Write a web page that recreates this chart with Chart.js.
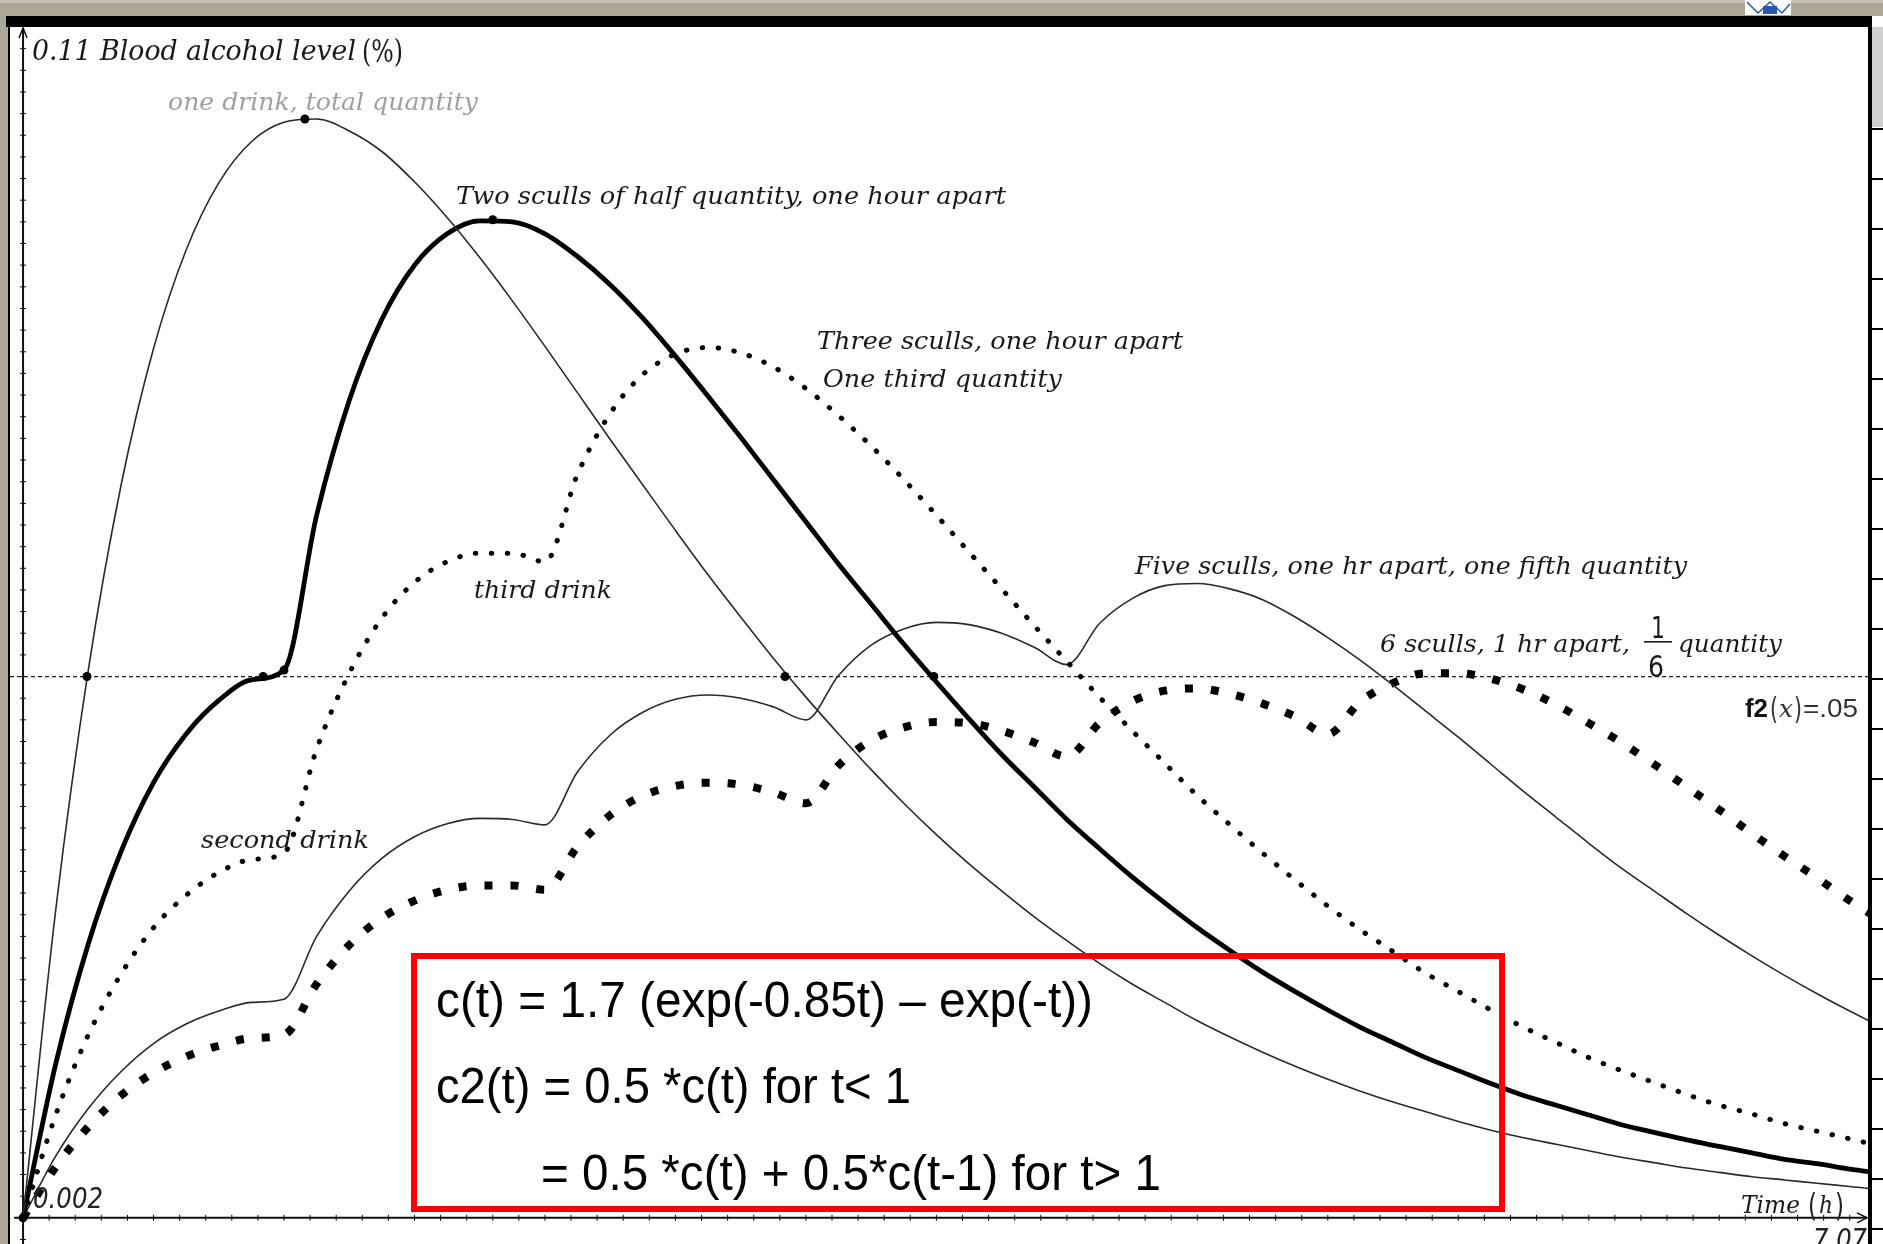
<!DOCTYPE html>
<html>
<head>
<meta charset="utf-8">
<script src="https://cdn.jsdelivr.net/npm/chart.js@4.4.1/dist/chart.umd.min.js"></script>
<style>
  html, body { margin: 0; padding: 0; background: #fff; }
  canvas { display: block; }
</style>
</head>
<body>
<canvas id="grafik-alkohol" width="1883" height="1244"></canvas>
<script>
/* =============================================
   kadar alkohol darah — tiruan layar TI-Nspire
   ============================================= */

// ============ DATA ============
// waktu (jam), langkah 1/8 jam
var waktuJam = [0, 0.125, 0.25, 0.375, 0.5, 0.625, 0.75, 0.875, 1, 1.125, 1.25, 1.375, 1.5, 1.625, 1.75, 1.875,
  2, 2.125, 2.25, 2.375, 2.5, 2.625, 2.75, 2.875, 3, 3.125, 3.25, 3.375, 3.5, 3.625, 3.75, 3.875,
  4, 4.125, 4.25, 4.375, 4.5, 4.625, 4.75, 4.875, 5, 5.125, 5.25, 5.375, 5.5, 5.625, 5.75, 5.875,
  6, 6.125, 6.25, 6.375, 6.5, 6.625, 6.75, 6.875, 7, 7.125, 7.25];

// satu minuman, jumlah penuh
var satuMinum = [0, .0284, .0506, .0676, .0803, .0894, .0956, .0994, .1012, .1015, .1004, .0985, .0957, .0924, .0887, .0847,
  .0805, .0762, .0719, .0677, .0635, .0594, .0555, .0517, .0481, .0447, .0414, .0383, .0354, .0327, .0302, .0278,
  .0256, .0235, .0216, .0199, .0182, .0167, .0153, .0140, .0128, .0117, .0107, .0098, .0089, .0081, .0074, .0068,
  .0062, .0056, .0051, .0046, .0042, .0038, .0035, .0032, .0029, .0026, .0024];

// dua teguk, setengah jumlah, selang satu jam
var duaTeguk = [0, .0142, .0253, .0338, .0402, .0447, .0478, .0497, .0506, .0649, .0755, .0830, .0880, .0909, .0921, .0920,
  .0909, .0888, .0862, .0831, .0796, .0759, .0721, .0682, .0643, .0604, .0567, .0530, .0495, .0461, .0428, .0398,
  .0368, .0341, .0315, .0291, .0268, .0247, .0227, .0209, .0192, .0176, .0162, .0148, .0136, .0124, .0113, .0104,
  .0095, .0086, .0079, .0072, .0066, .0060, .0054, .0050, .0045, .0041, .0037];

// tiga teguk, sepertiga jumlah
var tigaTeguk = [0, .0095, .0169, .0225, .0268, .0298, .0319, .0331, .0337, .0433, .0503, .0554, .0587, .0606, .0614, .0614,
  .0606, .0687, .0743, .0779, .0798, .0804, .0799, .0786, .0766, .0741, .0713, .0682, .0649, .0615, .0581, .0547,
  .0514, .0481, .0450, .0420, .0390, .0363, .0337, .0312, .0288, .0266, .0246, .0226, .0209, .0192, .0176, .0162,
  .0148, .0136, .0125, .0114, .0104, .0096, .0087, .0080, .0073, .0066, .0061];

// lima teguk, seperlima jumlah
var limaTeguk = [0, .0057, .0101, .0135, .0161, .0179, .0191, .0199, .0202, .0260, .0302, .0332, .0352, .0364, .0369, .0368,
  .0363, .0412, .0446, .0467, .0479, .0483, .0480, .0472, .0460, .0501, .0529, .0544, .0550, .0548, .0540, .0527,
  .0511, .0549, .0572, .0584, .0586, .0581, .0571, .0555, .0536, .0515, .0492, .0468, .0444, .0419, .0394, .0370,
  .0346, .0323, .0302, .0281, .0261, .0242, .0224, .0207, .0191, .0176, .0162];

// enam teguk, seperenam jumlah
var enamTeguk = [0, .0047, .0084, .0113, .0134, .0149, .0159, .0166, .0169, .0216, .0252, .0277, .0293, .0303, .0307, .0307,
  .0303, .0343, .0372, .0390, .0399, .0402, .0400, .0393, .0383, .0418, .0441, .0453, .0458, .0457, .0450, .0439,
  .0426, .0457, .0477, .0487, .0489, .0484, .0475, .0463, .0447, .0477, .0494, .0503, .0503, .0498, .0488, .0474,
  .0457, .0439, .0419, .0398, .0377, .0355, .0334, .0314, .0293, .0274, .0255];

// titik yang ditandai di layar
var titikJam   = [0, 0.245, 1.08, 2.92, 0.92, 1.0, 1.8, 3.49];
var titikKadar = [0, 0.05, 0.1015, 0.05, 0.05, 0.0506, 0.0922, 0.05];

var garisBatas = 0.05;   // f2(x)=.05
var xMin = -0.05, xMax = 7.07;
var yMin = -0.002, yMax = 0.11;
var stepTickX = 0.1, stepTickY = 0.002;

// ============ HELPERS ============

function seri(nilai) {
  return waktuJam.map(function(t, i) { return { x: t, y: nilai[i] }; });
}

function tulis(ctx, teks, x, y, lebar, font, warna) {
  ctx.save();
  ctx.font = font;
  ctx.fillStyle = warna || '#1a1a1a';
  ctx.textBaseline = 'alphabetic';
  ctx.textAlign = 'left';
  let w = ctx.measureText(teks).width;
  ctx.translate(x, y);
  if (lebar) ctx.scale(lebar / w, 1);
  ctx.fillText(teks, 0, 0);
  ctx.restore();
}

var fontMiring = 'italic 25px "DejaVu Serif"';

function gambarSumbu(chart) {
  let ctx = chart.ctx, sx = chart.scales.x, sy = chart.scales.y, a = chart.chartArea;
  let x0 = sx.getPixelForValue(0), y0 = sy.getPixelForValue(0);
  ctx.save();
  ctx.strokeStyle = '#111';
  ctx.lineWidth = 2;
  ctx.beginPath();
  ctx.moveTo(a.left + 4, y0); ctx.lineTo(a.right - 1, y0);
  ctx.moveTo(x0, chart.height); ctx.lineTo(x0, a.top + 1);
  ctx.stroke();

  // panah ujung sumbu
  ctx.lineWidth = 1.5;
  ctx.beginPath();
  ctx.moveTo(a.right - 11, y0 - 5); ctx.lineTo(a.right - 1, y0); ctx.lineTo(a.right - 11, y0 + 5);
  ctx.moveTo(x0 - 4, a.top + 11); ctx.lineTo(x0, a.top + 1); ctx.lineTo(x0 + 4, a.top + 11);
  ctx.stroke();

  // tick kecil
  ctx.lineWidth = 1;
  ctx.beginPath();
  for (let i = 1; i * stepTickX < xMax - 0.03; i++) {
    let px = sx.getPixelForValue(i * stepTickX);
    ctx.moveTo(px, y0 - 3); ctx.lineTo(px, y0 + 3);
  }
  for (let j = -1; j * stepTickY < yMax - 0.001; j++) {
    if (j === 0) continue;
    let py = sy.getPixelForValue(j * stepTickY);
    ctx.moveTo(x0 - 3, py); ctx.lineTo(x0 + 3, py);
  }
  ctx.stroke();
  ctx.restore();
}

function gambarLabel(chart) {
  let ctx = chart.ctx;
  // judul sumbu y
  tulis(ctx, '0.11 Blood alcohol level', 32, 60, 324, 'italic 27px "DejaVu Serif"');
  tulis(ctx, '(%)', 362, 62, 41, '31px "DejaVu Serif"');

  tulis(ctx, 'one drink, total quantity', 168, 110, 310, fontMiring, '#a0a0a0');
  tulis(ctx, 'Two sculls of half quantity, one hour apart', 456, 204, 550, fontMiring);
  tulis(ctx, 'Three sculls, one hour apart', 817, 349, 366, fontMiring);
  tulis(ctx, 'One third quantity', 823, 387, 239, fontMiring);
  tulis(ctx, 'third drink', 474, 598, 138, fontMiring);
  tulis(ctx, 'second drink', 201, 848, 168, fontMiring);
  tulis(ctx, 'Five sculls, one hr apart, one fifth quantity', 1135, 574, 552, fontMiring);
  tulis(ctx, '6 sculls, 1 hr apart,', 1380, 652, 250, fontMiring);
  // pecahan 1/6
  tulis(ctx, '1', 1651, 638, 14, '30px "DejaVu Sans"');
  tulis(ctx, '6', 1648, 677, 16, '30px "DejaVu Sans"');
  ctx.save();
  ctx.fillStyle = '#1a1a1a';
  ctx.fillRect(1644, 641, 28, 1.6);
  ctx.restore();
  tulis(ctx, 'quantity', 1678, 652, 104, fontMiring);

  // label garis f2
  tulis(ctx, 'f2', 1745, 717, 23, 'bold 25px "Liberation Sans"', '#111');
  tulis(ctx, '(', 1770, 719, 8, '30px "DejaVu Sans"', '#333');
  tulis(ctx, 'x', 1779, 717, 14, 'italic 25px "DejaVu Serif"', '#333');
  tulis(ctx, ')', 1794, 719, 8, '30px "DejaVu Sans"', '#333');
  tulis(ctx, '=.05', 1803, 717, 55, '25px "Liberation Sans"', '#333');

  // label ujung sumbu
  tulis(ctx, '0.002', 33, 1208, 70, 'italic 29px "DejaVu Sans"', '#222');
  tulis(ctx, 'Time', 1741, 1213, 59, fontMiring);
  tulis(ctx, '(', 1808, 1216, 9, '32px "DejaVu Sans"', '#222');
  tulis(ctx, 'h', 1819, 1213, 14, fontMiring);
  tulis(ctx, ')', 1835, 1216, 9, '32px "DejaVu Sans"', '#222');
  tulis(ctx, '7.07', 1813, 1249, 54, 'italic 29px "DejaVu Sans"', '#222');
}

function gambarKotak(ctx) {
  ctx.save();
  ctx.strokeStyle = '#ff0000';
  ctx.lineWidth = 6;
  ctx.strokeRect(414, 956, 1088, 253);
  ctx.restore();
  let f = '50px "Liberation Sans"';
  tulis(ctx, 'c(t) = 1.7 (exp(-0.85t) \u2013 exp(-t))', 436, 1017, 657, f, '#000');
  tulis(ctx, 'c2(t) = 0.5 *c(t) for t< 1', 436, 1103, 475, f, '#000');
  tulis(ctx, '= 0.5 *c(t) + 0.5*c(t-1) for t> 1', 541, 1190, 620, f, '#000');
}

function gambarBingkai(chart) {
  let ctx = chart.ctx, W = chart.width, H = chart.height;
  ctx.save();
  ctx.fillStyle = '#aca797';
  ctx.fillRect(0, 0, W, 16);
  ctx.fillRect(0, 16, 8, H);
  ctx.fillStyle = '#c4c0b3';
  ctx.fillRect(0, 0, W, 3);
  ctx.fillStyle = '#000';
  ctx.fillRect(6, 16, 1866, 11);
  ctx.fillRect(8, 16, 2, H);
  ctx.fillRect(1868, 16, 4, H);
  // potongan jendela lain di kanan
  ctx.fillStyle = '#fff';
  ctx.fillRect(1872, 27, W - 1872, H);
  ctx.fillStyle = '#d0d0d0';
  ctx.fillRect(1872, 27, W - 1872, 100);
  ctx.fillStyle = '#000';
  for (let y = 128; y < H; y += 50) ctx.fillRect(1872, y, W - 1872, 2);
  // logo pojok kanan atas
  ctx.fillStyle = '#fff';
  ctx.fillRect(1745, 0, 46, 15);
  ctx.strokeStyle = '#2b56b0';
  ctx.lineWidth = 1.5;
  ctx.beginPath();
  ctx.moveTo(1747, 2); ctx.lineTo(1758, 13); ctx.lineTo(1770, 2); ctx.lineTo(1782, 13); ctx.lineTo(1790, 4);
  ctx.stroke();
  ctx.fillStyle = '#2b56b0';
  ctx.fillRect(1763, 6, 14, 8);
  ctx.restore();
}

var pluginNspire = {
  id: 'nspire',
  beforeDraw: function(chart) {
    let ctx = chart.ctx;
    ctx.save();
    ctx.fillStyle = '#fff';
    ctx.fillRect(0, 0, chart.width, chart.height);
    ctx.restore();
  },
  beforeDatasetsDraw: function(chart) { gambarSumbu(chart); },
  afterDatasetsDraw: function(chart) {
    gambarLabel(chart);
    gambarKotak(chart.ctx);
  },
  afterDraw: function(chart) { gambarBingkai(chart); }
};

// ============ CHART ============

var grafik = new Chart(document.getElementById('grafik-alkohol'), {
  type: 'line',
  data: {
    datasets: [
      {
        label: 'titik',
        data: titikJam.map(function(t, i) { return { x: t, y: titikKadar[i] }; }),
        showLine: false,
        pointRadius: 4.5,
        pointBackgroundColor: '#000',
        pointBorderWidth: 0,
      },
      {
        label: 'one drink',
        data: seri(satuMinum),
        borderColor: '#2a2a2a', borderWidth: 1.6,
      },
      {
        label: 'two sculls',
        data: seri(duaTeguk),
        borderColor: '#000', borderWidth: 4.8,
      },
      {
        label: 'three sculls',
        data: seri(tigaTeguk),
        borderColor: '#000', borderWidth: 5,
        borderDash: [0.5, 15.5], borderCapStyle: 'round',
      },
      {
        label: 'five sculls',
        data: seri(limaTeguk),
        borderColor: '#2a2a2a', borderWidth: 1.6,
      },
      {
        label: 'six sculls',
        data: seri(enamTeguk),
        borderColor: '#000', borderWidth: 8,
        borderDash: [8, 18], borderCapStyle: 'butt',
      },
      {
        label: 'f2',
        data: [{ x: xMin, y: garisBatas }, { x: xMax, y: garisBatas }],
        borderColor: '#222', borderWidth: 1.2,
        borderDash: [4, 3],
      },
    ],
  },
  options: {
    responsive: false,
    animation: false,
    layout: { padding: { left: 10, right: 15, top: 27, bottom: 4 } },
    plugins: {
      legend: { display: false },
      tooltip: { enabled: false },
    },
    elements: {
      point: { radius: 0 },
      line: { cubicInterpolationMode: 'monotone', fill: false },
    },
    scales: {
      x: { type: 'linear', min: xMin, max: xMax, display: false },
      y: { type: 'linear', min: yMin, max: yMax, display: false },
    },
  },
  plugins: [pluginNspire],
});
</script>
</body>
</html>
